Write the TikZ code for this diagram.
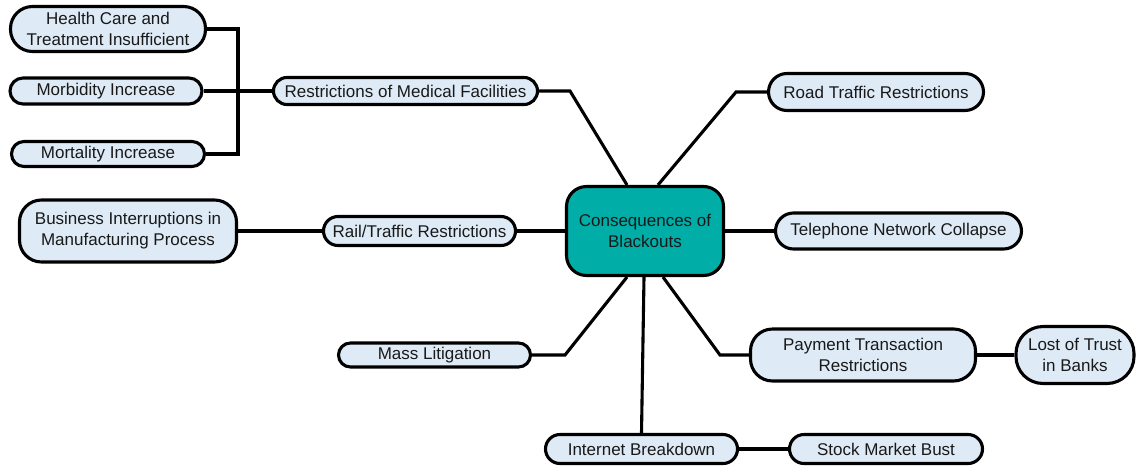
\documentclass[tikz,border=0pt]{standalone}
\usepackage{fontspec}
\setmainfont{Liberation Sans}
\usetikzlibrary{shapes.misc,calc}
\definecolor{leafblue}{RGB}{222,235,246}
\definecolor{hubteal}{RGB}{0,173,167}
\begin{document}
\begin{tikzpicture}[x=1pt, y=-1pt, line width=3.1pt,
    pill/.style={draw, fill=leafblue, rounded rectangle, inner xsep=1pt, inner ysep=2pt, text=black!90, font=\fontsize{17}{21}\selectfont},
    card/.style={draw, fill=leafblue, rounded corners=22pt, align=center, inner sep=2pt, text=black!90, font=\fontsize{17}{21}\selectfont},
    hub/.style={draw, fill=hubteal, rounded corners=20pt, align=center, minimum width=157pt, minimum height=89pt, text=black!90, font=\fontsize{17}{21}\selectfont}]
\useasboundingbox (0,0) rectangle (1137,469);

\node[hub] (c) at (645,231) {Consequences of\\Blackouts};

\node[card, minimum width=195pt, minimum height=45pt] (hc) at (108,29) {Health Care and\\Treatment Insufficient};
\node[pill, minimum width=194pt, minimum height=26pt] (mor) at (106,91) {Morbidity Increase};
\node[pill, minimum width=195pt, minimum height=25pt] (mort) at (108,154) {Mortality Increase};
\node[pill, minimum width=266pt, minimum height=27pt] (med) at (405.5,91) {Restrictions of Medical Facilities};
\node[pill, minimum width=217pt, minimum height=37pt] (road) at (876,92) {Road Traffic Restrictions};
\node[pill, minimum width=248pt, minimum height=36pt] (tel) at (898.5,231) {Telephone Network Collapse};
\node[pill, minimum width=194pt, minimum height=29pt] (rail) at (419.5,231) {Rail/Traffic Restrictions};
\node[card, minimum width=217pt, minimum height=62pt] (bus) at (128,231) {Business Interruptions in\\Manufacturing Process};
\node[pill, minimum width=194pt, minimum height=24pt] (mass) at (434.5,355) {Mass Litigation};
\node[card, minimum width=225pt, minimum height=52pt] (pay) at (863,355) {Payment Transaction\\Restrictions};
\node[card, rounded corners=27pt, minimum width=118pt, minimum height=57pt] (trust) at (1075,355) {Lost of Trust\\in Banks};
\node[pill, minimum width=194pt, minimum height=29pt] (net) at (641.5,449) {Internet Breakdown};
\node[pill, minimum width=195pt, minimum height=29pt] (stock) at (886,449) {Stock Market Bust};

\coordinate (j) at (238,91);
\coordinate (kmed) at (570,91);
\coordinate (kroad) at (736,92);
\coordinate (kmass) at (565,355);
\coordinate (kpay) at (720,355);

\draw (hc.east) -| (j) |- (mort.east);
\draw (mor.east) -- (med.west);
\draw (med.east) -- (kmed) -- ($(c.north)+(-18,0)$);
\draw ($(c.north)+(13,0)$) -- (kroad) -- (road.west);
\draw (c.east) -- (tel.west);
\draw (bus.east) -- (rail.west);
\draw (rail.east) -- (c.west);
\draw (mass.east) -- (kmass) -- ($(c.south)+(-18,0)$);
\draw ($(c.south)+(-1,0)$) -- (net.north);
\draw ($(c.south)+(18,0)$) -- (kpay) -- (pay.west);
\draw (pay.east) -- (trust.west);
\draw (net.east) -- (stock.west);
\end{tikzpicture}
\end{document}
